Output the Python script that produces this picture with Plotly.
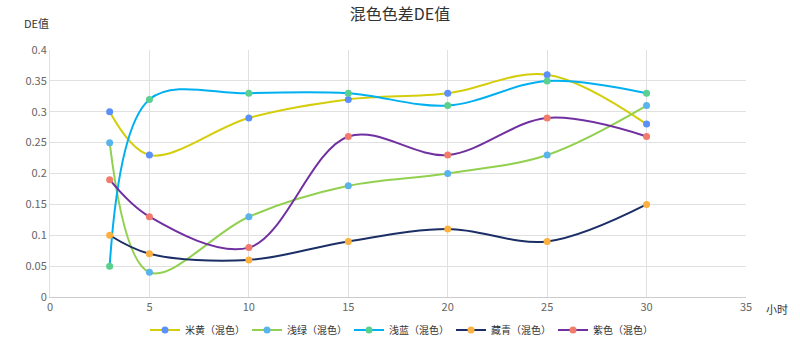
import plotly.graph_objects as go

hours = [3, 5, 10, 15, 20, 25, 30]
names = ["米黄（混色）", "浅绿（混色）", "浅蓝（混色）", "藏青（混色）", "紫色（混色）"]
mihuang = [0.30, 0.23, 0.29, 0.32, 0.33, 0.36, 0.28]
qianlv = [0.25, 0.04, 0.13, 0.18, 0.20, 0.23, 0.31]
qianlan = [0.05, 0.32, 0.33, 0.33, 0.31, 0.35, 0.33]
zangqing = [0.10, 0.07, 0.06, 0.09, 0.11, 0.09, 0.15]
zise = [0.19, 0.13, 0.08, 0.26, 0.23, 0.29, 0.26]
series = [mihuang, qianlv, qianlan, zangqing, zise]
line_colors = ["#d4cd0a", "#92d050", "#00b0f0", "#1b2f66", "#7030a0"]
marker_colors = ["#5b8ff9", "#5ab4ec", "#5ad08e", "#fbb040", "#f27c6b"]

FONT = "Noto Sans CJK SC, Microsoft YaHei, sans-serif"

fig = go.Figure()
for n, v, lc, mc in zip(names, series, line_colors, marker_colors):
    fig.add_trace(go.Scatter(
        x=hours, y=v, name=n, mode="lines+markers",
        line=dict(color=lc, width=2, shape="spline", smoothing=1.0),
        marker=dict(color=mc, size=7),
    ))

fig.update_layout(
    width=800, height=348,
    margin=dict(l=50, r=54, t=50, b=51, autoexpand=False),
    paper_bgcolor="white", plot_bgcolor="white",
    font=dict(family=FONT, size=11, color="#666"),
    title=dict(text="混色色差DE值", x=0.5, xanchor="center", y=0.96, yanchor="middle",
               font=dict(size=16, color="#333", family=FONT)),
    showlegend=True,
    legend=dict(orientation="h", x=0.5, xanchor="center", xref="container",
                y=18 / 348, yanchor="middle", yref="container",
                font=dict(size=10, color="#333"), itemwidth=30, tracegroupgap=0,
                entrywidth=57, entrywidthmode="pixels"),
    xaxis=dict(range=[0, 35], tickvals=[0, 5, 10, 15, 20, 25, 30, 35],
               showgrid=True, gridcolor="#e0e0e0", gridwidth=1,
               showline=True, linecolor="#cccccc", linewidth=1,
               zeroline=False, ticks="", tickfont=dict(color="#666", size=11)),
    yaxis=dict(range=[0, 0.4], tickvals=[0, 0.05, 0.1, 0.15, 0.2, 0.25, 0.3, 0.35, 0.4],
               ticktext=["0", "0.05", "0.1", "0.15", "0.2", "0.25", "0.3", "0.35", "0.4"],
               showgrid=True, gridcolor="#e0e0e0", gridwidth=1,
               showline=True, linecolor="#e0e0e0", linewidth=1,
               zeroline=False, ticks="", tickfont=dict(color="#666", size=11)),
    annotations=[
        dict(text="DE值", xref="paper", yref="paper", x=-0.02, y=1.11,
             xanchor="center", yanchor="middle", showarrow=False,
             font=dict(size=11, color="#333")),
        dict(text="小时", xref="paper", yref="paper", x=1.045, y=-0.05,
             xanchor="center", yanchor="middle", showarrow=False,
             font=dict(size=11, color="#333")),
    ],
)

fig.write_html("out.html")
